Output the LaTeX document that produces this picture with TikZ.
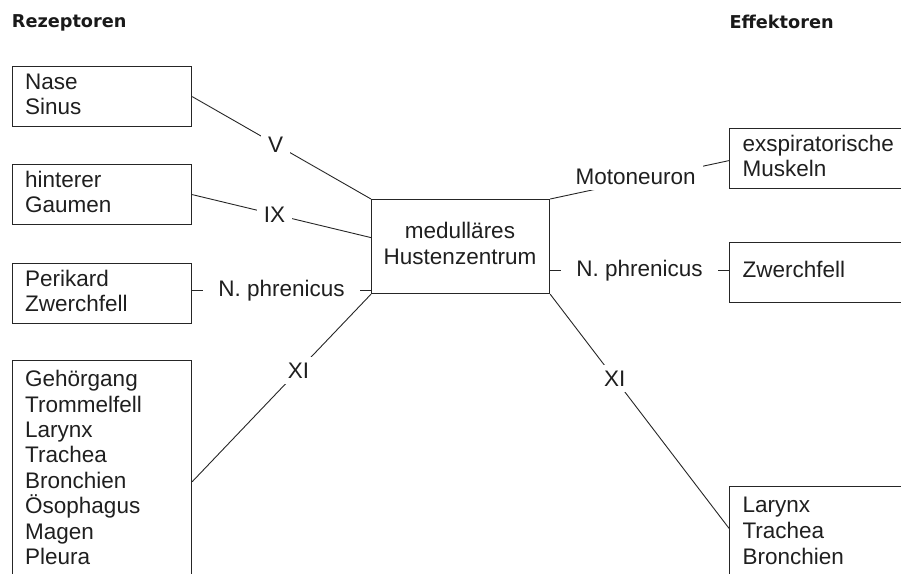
\documentclass[tikz,border=0pt]{standalone}
\usepackage{fontspec}
\setmainfont{Liberation Sans}
\newfontfamily\titlefont{DejaVu Sans}
\begin{document}
\begin{tikzpicture}[x=1pt,y=-1pt,
  box/.style={draw=black!85, line width=1.2pt, rectangle, inner sep=0pt, anchor=north west},
  conn/.style={draw=black!85, line width=0.9pt},
  lab/.style={fill=white, inner xsep=7pt, inner ysep=6pt, text=black!88,
    font=\fontsize{22.5}{25.5}\selectfont},
  labw/.style={lab, inner xsep=15pt},
  title/.style={anchor=base west, inner sep=0pt, text=black!90,
    font=\titlefont\bfseries\fontsize{17.7}{20}\selectfont},
  txt/.style={anchor=base west, inner sep=0pt, text=black!88,
    font=\fontsize{22.5}{25.5}\selectfont}
]
\useasboundingbox (0,0) rectangle (901,573);
\clip (0,0) rectangle (901,573);

% titles
\node[title] (trez) at (11.7,27.7) {Rezeptoren};
\node[title] (teff) at (729.3,28) {Effektoren};

% left boxes
\node[box, minimum width=179pt, minimum height=60pt] (b1) at (12,66) {};
\node[txt] (t1) at (25,89) {\parbox[t]{160pt}{\fontsize{22.5}{25.6}\selectfont Nase\\Sinus}};

\node[box, minimum width=179pt, minimum height=60pt] (b2) at (12,164) {};
\node[txt] (t2) at (25,187) {\parbox[t]{160pt}{\fontsize{22.5}{25.6}\selectfont hinterer\\Gaumen}};

\node[box, minimum width=179pt, minimum height=60pt] (b3) at (12,263) {};
\node[txt] (t3) at (25,286) {\parbox[t]{160pt}{\fontsize{22.5}{25.6}\selectfont Perikard\\Zwerchfell}};

\node[box, minimum width=179pt, minimum height=260pt] (b4) at (12,360) {};
\node[txt] (t4) at (25,386.7) {\parbox[t]{160pt}{\fontsize{22.5}{25.43}\selectfont
  Gehörgang\\Trommelfell\\Larynx\\Trachea\\Bronchien\\Ösophagus\\Magen\\Pleura}};

% centre box
\node[box, minimum width=178pt, minimum height=94pt] (c) at (371,199) {};
\node[txt, anchor=base] (tc) at (460,238.5) {\parbox[t]{170pt}{\centering\fontsize{22.5}{26}\selectfont
  medulläres\\Hustenzentrum}};

% right boxes
\node[box, minimum width=220pt, minimum height=60pt] (r1) at (729,128) {};
\node[txt] (tr1) at (742.3,151.7) {\parbox[t]{170pt}{\fontsize{22.5}{25}\selectfont exspiratorische\\Muskeln}};

\node[box, minimum width=220pt, minimum height=60pt] (r2) at (729,242) {};
\node[txt] (tr2) at (742.3,277.7) {Zwerchfell};

\node[box, minimum width=220pt, minimum height=120pt] (r3) at (729,486) {};
\node[txt] (tr3) at (742.3,512) {\parbox[t]{170pt}{\fontsize{22.5}{26}\selectfont Larynx\\Trachea\\Bronchien}};

% connectors left
\draw[conn] (b1.east) -- node[lab, pos=0.467] (lv) {V} (c.north west);
\draw[conn] (b2.east) -- node[lab, pos=0.46] (lix) {IX} ([yshift=9pt]c.west);
\draw[conn] ([yshift=3pt]b3.east) -- node[labw] (lphl) {N. phrenicus} ([yshift=3pt]b3.east -| c.west);
\draw[conn] ([yshift=-121.7pt]b4.north east) -- node[lab, pos=0.594] (lxil) {XI} (c.south west);

% connectors right
\draw[conn] (c.north east) -- node[lab, pos=0.478, yshift=4pt] (lmot) {Motoneuron} ([yshift=-2pt]r1.west);
\draw[conn] ([yshift=2pt]r2.west -| c.east) -- node[labw] (lphr) {N. phrenicus} ([yshift=2pt]r2.west);
\draw[conn] (c.south east) -- node[lab, pos=0.361] (lxir) {XI} ([yshift=-42.3pt]r3.north west);
\end{tikzpicture}
\end{document}
